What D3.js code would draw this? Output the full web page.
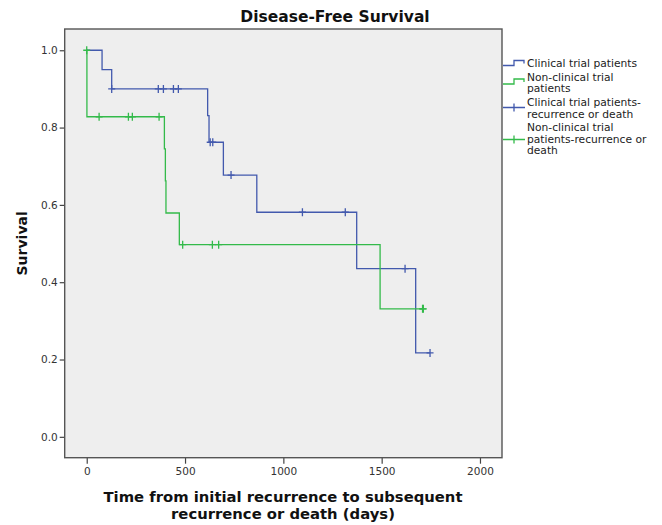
<!DOCTYPE html>
<html>
<head>
<meta charset="utf-8">
<script src="https://cdn.jsdelivr.net/npm/d3@7"></script>
<style>
  body { margin: 0; background: #fff; }
  svg text { font-family: "DejaVu Sans", sans-serif; }
</style>
</head>
<body>
<div id="chart"></div>
<script>
// step points of the two Kaplan-Meier curves (time in days, survival)
var clinicalTimes = [0, 78, 127, 615, 622, 695, 865, 1373, 1673, 1746];
var clinicalSurv  = [1.0, 0.95, 0.90, 0.831, 0.762, 0.677, 0.581, 0.435, 0.217, 0.217];
var nonClinicalTimes = [0, 1, 395, 400, 403, 471, 1492, 1712];
var nonClinicalSurv  = [1.0, 0.828, 0.745, 0.662, 0.579, 0.497, 0.331, 0.331];

// censored cases ("+" marks)
var clinicalCensorTimes = [127, 364, 390, 441, 466, 628, 641, 734, 1097, 1315, 1619, 1746];
var clinicalCensorSurv  = [0.90, 0.90, 0.90, 0.90, 0.90, 0.762, 0.762, 0.677, 0.581, 0.581, 0.435, 0.217];
var nonClinicalCensorTimes = [0, 63, 212, 232, 368, 488, 639, 671, 1708, 1712];
var nonClinicalCensorSurv  = [1.0, 0.828, 0.828, 0.828, 0.828, 0.497, 0.497, 0.497, 0.331, 0.331];

var xTicks = [0, 500, 1000, 1500, 2000];
var yTicks = [0.0, 0.2, 0.4, 0.6, 0.8, 1.0];

var legendLabels = [
  ["Clinical trial patients"],
  ["Non-clinical trial", "patients"],
  ["Clinical trial patients-", "recurrence or death"],
  ["Non-clinical trial", "patients-recurrence or", "death"]
];

var blue = "#4259ad", green = "#33ba4a";

function main() {
  var W = 662, H = 525;
  var frame = {left: 64.7, right: 502, top: 29, bottom: 457.7};

  var svg = d3.select("#chart").append("svg")
    .attr("width", W).attr("height", H);

  var x = d3.scaleLinear().domain([-112, 2112]).range([frame.left, frame.right]);
  var y = d3.scaleLinear().domain([-0.054, 1.055]).range([frame.bottom, frame.top]);

  // plot background
  svg.append("rect")
    .attr("x", frame.left).attr("y", frame.top)
    .attr("width", frame.right - frame.left)
    .attr("height", frame.bottom - frame.top)
    .attr("fill", "#eeeeee");

  // axes
  var xAxis = svg.append("g")
    .attr("transform", `translate(0, ${frame.bottom})`)
    .call(d3.axisBottom(x).tickValues(xTicks).tickSize(6).tickPadding(4).tickFormat(d3.format("d")));
  var yAxis = svg.append("g")
    .attr("transform", `translate(${frame.left}, 0)`)
    .call(d3.axisLeft(y).tickValues(yTicks).tickSize(5).tickPadding(2).tickFormat(d3.format(".1f")));
  [xAxis, yAxis].forEach(function(a) {
    a.select(".domain").remove();
    a.selectAll(".tick line").attr("stroke", "#444").attr("stroke-width", 1.2);
    a.selectAll(".tick text").attr("fill", "#333").style("font-size", "10.5px");
  });

  // frame
  svg.append("rect")
    .attr("x", frame.left).attr("y", frame.top)
    .attr("width", frame.right - frame.left)
    .attr("height", frame.bottom - frame.top)
    .attr("fill", "none")
    .attr("stroke", "#555").attr("stroke-width", 1.4);

  // curves
  function drawCurve(times, surv, censT, censS, color) {
    var pts = times.map(function(t, i) { return [t, surv[i]]; });
    var line = d3.line().x(d => x(d[0])).y(d => y(d[1])).curve(d3.curveStepAfter);
    svg.append("path")
      .attr("d", line(pts))
      .attr("fill", "none")
      .attr("stroke", color)
      .attr("stroke-width", 1.3);
    var g = svg.append("g");
    censT.forEach(function(t, i) {
      var cx = x(t), cy = y(censS[i]);
      g.append("path")
        .attr("d", `M${cx},${cy - 4}V${cy + 4}M${cx - 3.5},${cy}H${cx + 3.5}`)
        .attr("stroke", color).attr("stroke-width", 1.3).attr("fill", "none");
    });
  }
  drawCurve(clinicalTimes, clinicalSurv, clinicalCensorTimes, clinicalCensorSurv, blue);
  drawCurve(nonClinicalTimes, nonClinicalSurv, nonClinicalCensorTimes, nonClinicalCensorSurv, green);

  // title
  svg.append("text")
    .attr("x", 335).attr("y", 22)
    .attr("text-anchor", "middle")
    .style("font-size", "15.5px").style("font-weight", "bold")
    .attr("fill", "#111")
    .text("Disease-Free Survival");

  // axis titles
  svg.append("text")
    .attr("transform", `translate(27, ${(frame.top + frame.bottom) / 2}) rotate(-90)`)
    .attr("text-anchor", "middle")
    .style("font-size", "14px").style("font-weight", "bold")
    .attr("fill", "#111")
    .text("Survival");

  var xl = svg.append("text")
    .attr("x", 283).attr("y", 502)
    .attr("text-anchor", "middle")
    .style("font-size", "14.8px").style("font-weight", "bold")
    .attr("fill", "#111");
  xl.append("tspan").attr("x", 283).attr("dy", 0).text("Time from initial recurrence to subsequent");
  xl.append("tspan").attr("x", 283).attr("dy", 17).text("recurrence or death (days)");

  // legend
  var legendY = [63.5, 82, 107.5, 139.5];
  var textTop = [67, 80.5, 106, 131];
  var legendColors = [blue, green, blue, green];
  legendLabels.forEach(function(lines, i) {
    var ly = legendY[i], c = legendColors[i];
    if (i < 2) {
      svg.append("path")
        .attr("d", `M503,${ly + 2}H514V${ly - 3}H524V${ly}`)
        .attr("fill", "none").attr("stroke", c).attr("stroke-width", 1.3);
    } else {
      svg.append("path")
        .attr("d", `M503,${ly}H525M514,${ly - 4}V${ly + 4}`)
        .attr("fill", "none").attr("stroke", c).attr("stroke-width", 1.3);
    }
    var t = svg.append("text")
      .attr("x", 527).attr("y", textTop[i])
      .style("font-size", "10.7px").attr("fill", "#222");
    lines.forEach(function(s, j) {
      t.append("tspan").attr("x", 527).attr("dy", j === 0 ? 0 : 11.6).text(s);
    });
  });
}

main();
</script>
</body>
</html>
